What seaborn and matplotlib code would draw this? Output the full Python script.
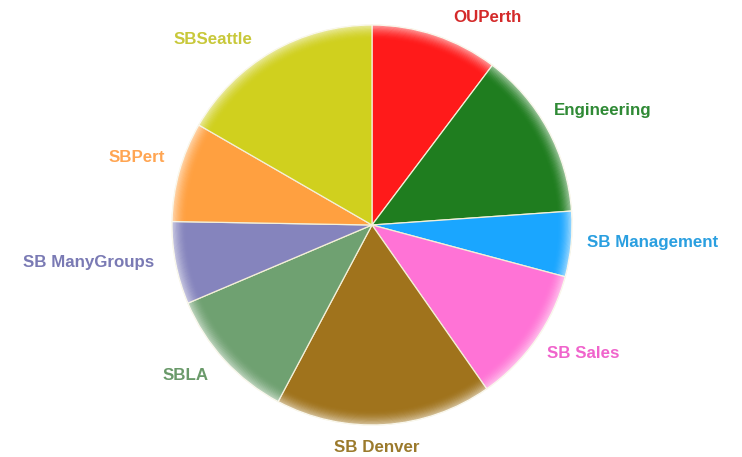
import matplotlib
matplotlib.use("Agg")
import matplotlib.pyplot as plt
from matplotlib.patches import Wedge
import seaborn as sns

sns.set_style("white")
plt.rcParams['font.family'] = ['Liberation Sans', 'DejaVu Sans']

# slices clockwise from 12 o'clock (values in degrees)
groups = ['OUPerth', 'Engineering', 'SB Management', 'SB Sales', 'SB Denver',
          'SBLA', 'SB ManyGroups', 'SBPert', 'SBSeattle']
sizes = [37, 49, 19, 40, 63, 39, 24, 29, 60]
slice_colors = ['#ff1a1a', '#1f7d1f', '#1aa6ff', '#ff73d6', '#a0731c',
                '#6fa171', '#8584bd', '#ffa040', '#d0d01e']
label_colors = ['#d42a2a', '#2f8a35', '#2a9fe0', '#f064cc', '#9b7a2c',
                '#6a9a6a', '#7a7ab4', '#ffa552', '#c8c83a']

fig = plt.figure(figsize=(7.42, 4.57), dpi=100)
ax = fig.add_axes([0, 0, 1, 1])
cx, cy, R = 372, 457 - 225, 200

wedges, _ = ax.pie(sizes, colors=slice_colors, startangle=90, counterclock=False,
                   center=(cx, cy), radius=R, frame=True,
                   wedgeprops=dict(edgecolor='#f4f0d8', linewidth=0.9))

# soft whitish rim like the original's glow
steps = 14
for i in range(steps):
    r = R - i * 1.1
    ax.add_patch(Wedge((cx, cy), r + 0.6, 0, 360, width=1.3,
                       facecolor='white', edgecolor='none',
                       alpha=0.55 * ((steps - i) / steps) ** 2))

ax.set_xlim(0, 742)
ax.set_ylim(0, 457)
ax.set_aspect('equal')
ax.axis('off')

# label positions in pixels (x, y from top)
label_pos = [(487, 18), (603, 110), (653, 243), (583, 353), (377, 447),
             (186, 376), (89, 262), (137, 158), (213, 40)]
for name, (x, y), c in zip(groups, label_pos, label_colors):
    ax.text(x, 457 - y, name, ha='center', va='center', fontsize=12.2,
            fontweight='bold', color=c)

plt.savefig('out.png', dpi=100)
